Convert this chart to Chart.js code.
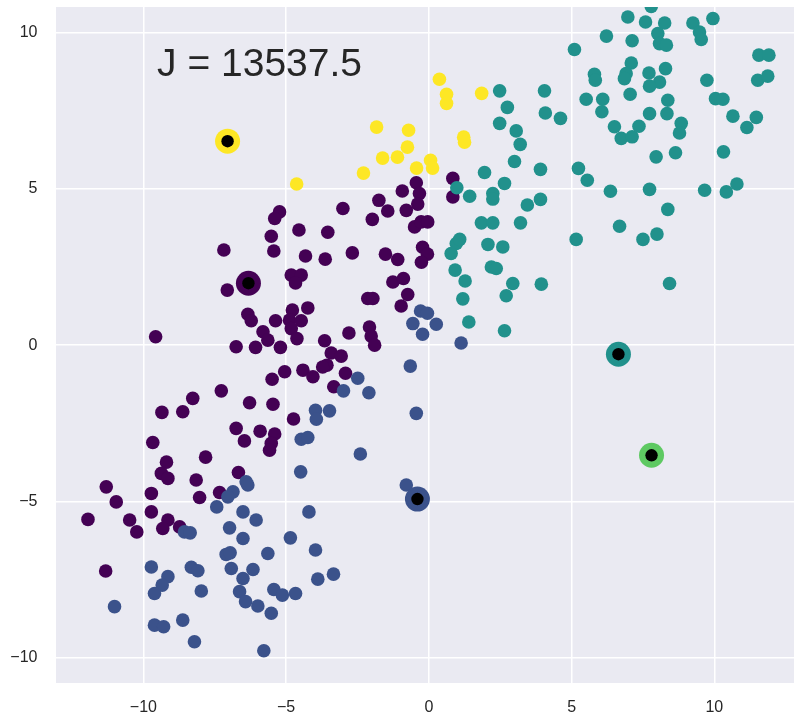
<!DOCTYPE html>
<html><head><meta charset="utf-8">
<style>html,body{margin:0;padding:0;background:#fff;} canvas{display:block;}</style>
<script src="https://cdn.jsdelivr.net/npm/chart.js@4.4.1/dist/chart.umd.min.js"></script>
</head><body>
<canvas id="c" width="794" height="721"></canvas>
<script>
// ---- tick labels & axis ranges ----
const xTicks = [-10, -5, 0, 5, 10];
const yTicks = [-10, -5, 0, 5, 10];
const xRange = [-13.06, 12.79];
const yRange = [-10.80, 10.81];
const annotationText = 'J = 13537.5';
const annotationPos = [-9.52, 8.6];

// ---- cluster members ----
const purplePts = [
[-5.23,4.26],[-5.40,4.05],[-4.55,3.68],[-3.54,3.61],[-3.01,4.37],[-1.75,4.63],[-0.93,4.93],[-0.44,5.19],
[-0.33,4.85],[-1.44,4.29],[-1.98,4.02],[-0.79,4.31],[-0.39,4.51],[-0.50,3.78],[-0.27,3.94],[0.84,5.33],
[0.84,4.74],[-0.04,3.94],[-7.18,3.04],[-7.06,1.76],[-9.57,0.27],[-6.75,-0.05],[-7.27,-1.46],[-8.27,-1.70],
[-8.62,-2.13],[-9.35,-2.15],[-9.67,-3.11],[-6.75,-2.66],[-7.82,-3.58],[-9.19,-3.74],[-5.52,3.48],[-5.43,3.01],
[-4.32,2.85],[-3.63,2.75],[-2.68,2.95],[-1.52,2.91],[-1.09,2.74],[-0.22,3.13],[-0.05,2.91],[-0.26,2.65],
[-4.82,2.24],[-4.47,2.24],[-4.67,1.99],[-1.26,2.02],[-0.89,2.13],[-2.14,1.49],[-1.96,1.49],[-0.74,1.62],
[-0.97,1.25],[-6.34,0.99],[-6.22,0.78],[-5.37,0.78],[-4.78,1.12],[-4.24,1.19],[-4.88,0.80],[-4.47,0.78],
[-4.82,0.53],[-4.62,0.21],[-5.81,0.43],[-5.64,0.16],[-2.80,0.39],[-3.65,0.14],[-2.08,0.58],[-2.02,0.29],
[-1.90,0.00],[-6.07,-0.07],[-5.20,-0.07],[-3.42,-0.25],[-3.07,-0.35],[-3.57,-0.64],[-3.72,-0.70],[-5.05,-0.85],
[-5.49,-1.09],[-4.41,-0.80],[-4.06,-1.01],[-2.92,-0.90],[-3.33,-1.33],[-6.28,-1.84],[-5.46,-1.89],[-4.74,-2.36],
[-5.91,-2.75],[-5.40,-2.84],[-5.52,-3.14],[-5.58,-3.36],[-6.46,-3.06],[-9.37,-4.10],[-9.14,-4.26],[-11.30,-4.53],
[-10.95,-5.01],[-9.72,-4.74],[-8.15,-4.31],[-8.03,-4.87],[-7.33,-4.71],[-6.67,-4.07],[-11.94,-5.57],[-10.48,-5.59],
[-10.23,-5.97],[-9.72,-5.33],[-9.14,-5.59],[-9.32,-5.86],[-8.73,-5.81],[-11.32,-7.22]
];
const bluePts = [
[-0.56,0.69],[-0.29,1.09],[-0.05,1.02],[-0.22,0.35],[0.26,0.67],[1.13,0.07],[-2.49,-1.06],[-2.99,-1.46],
[-2.10,-1.52],[-0.65,-0.67],[-0.44,-2.18],[-3.97,-2.08],[-3.48,-2.10],[-3.94,-2.37],[-4.47,-3.01],[-4.24,-2.95],
[-2.40,-3.48],[-4.49,-4.05],[-6.40,-4.37],[-6.34,-4.47],[-0.79,-4.47],[-6.51,-5.33],[-6.05,-5.59],[-4.20,-5.33],
[-6.51,-6.18],[-4.85,-6.16],[-5.64,-6.66],[-3.97,-6.55],[-6.16,-7.17],[-6.51,-7.46],[-3.89,-7.48],[-3.34,-7.32],
[-5.43,-7.81],[-5.13,-7.99],[-4.67,-7.94],[-6.63,-7.88],[-6.42,-8.20],[-5.99,-8.34],[-5.52,-8.57],[-5.78,-9.77],
[-6.86,-4.69],[-7.04,-4.85],[-7.43,-5.17],[-6.98,-5.84],[-8.56,-5.97],[-8.36,-6.00],[-7.10,-6.69],[-6.96,-6.64],
[-9.72,-7.09],[-8.32,-7.10],[-8.09,-7.21],[-6.92,-7.14],[-9.14,-7.40],[-9.34,-7.67],[-9.61,-7.94],[-7.97,-7.86],
[-11.01,-8.36],[-9.61,-8.95],[-9.29,-9.00],[-8.62,-8.79],[-8.21,-9.48]
];
const tealPts = [
[5.10,9.45],[6.22,9.88],[2.48,8.13],[4.05,8.13],[2.75,7.60],[4.08,7.42],[4.61,7.25],[2.48,7.09],
[3.06,6.85],[3.20,6.42],[3.00,5.87],[3.91,5.62],[1.95,5.52],[2.65,5.17],[2.24,4.85],[2.24,4.67],
[1.43,4.76],[0.98,5.03],[3.45,4.48],[3.91,4.66],[1.84,3.91],[2.24,3.91],[3.21,3.91],[5.24,5.65],
[5.55,5.27],[5.80,8.66],[5.83,8.47],[5.51,7.86],[6.09,7.86],[6.06,7.46],[6.36,4.92],[7.79,10.83],
[6.97,10.49],[7.59,10.33],[8.26,10.30],[8.02,9.96],[8.08,9.64],[8.32,9.59],[9.25,10.30],[9.95,10.44],
[9.48,10.01],[9.54,9.77],[7.12,9.73],[11.56,9.27],[11.91,9.27],[11.52,8.47],[11.87,8.60],[7.09,9.02],
[6.91,8.68],[6.85,8.52],[7.71,8.70],[8.29,8.84],[8.08,8.41],[7.73,8.28],[9.74,8.47],[7.05,8.02],
[8.37,7.83],[8.34,7.40],[10.04,7.88],[10.30,7.86],[7.73,7.40],[10.65,7.32],[11.47,7.28],[11.14,6.96],
[6.50,6.98],[6.74,6.61],[7.12,6.66],[7.36,7.00],[8.84,7.09],[8.78,6.78],[7.96,6.02],[8.64,6.15],
[10.32,6.18],[7.73,4.98],[9.66,4.95],[10.42,4.90],[10.79,5.15],[8.37,4.34],[6.68,3.80],[7.99,3.55],
[7.50,3.38],[8.43,1.97],[0.96,3.25],[1.08,3.38],[0.78,2.93],[2.07,3.22],[2.59,3.14],[5.16,3.38],
[0.92,2.40],[2.19,2.50],[2.36,2.45],[1.27,2.05],[2.94,1.97],[3.94,1.95],[2.71,1.58],[1.19,1.48],
[1.40,0.74],[2.65,0.46]
];
const yellowPts = [
[-4.63,5.15],[-2.29,5.50],[-1.83,6.97],[-1.62,5.98],[-1.10,6.01],[-0.75,6.33],[-0.71,6.87],[-0.43,5.66],
[0.06,5.91],[0.13,5.66],[0.37,8.50],[0.62,8.02],[0.62,7.73],[1.85,8.05],[1.22,6.65],[1.25,6.49]
];

// ---- centroids ----
const centroidX = [-7.05, -6.32, -0.40, 6.64, 7.80];
const centroidY = [6.52, 1.98, -4.92, -0.29, -3.52];
const centroidColors = ['#fde725', '#440154', '#3b528b', '#21918c', '#5ec962'];

const FONT = '"Liberation Sans", Arial, Helvetica, sans-serif';
const fmt = v => String(v).replace('-', '\u2212');
const toXY = arr => arr.map(([x, y]) => ({x, y}));

const bgPlugin = {
  id: 'bg',
  beforeDraw(chart) {
    const {ctx, chartArea: a} = chart;
    ctx.save();
    ctx.fillStyle = '#eaeaf2';
    ctx.fillRect(a.left, a.top, a.right - a.left, a.bottom - a.top);
    ctx.restore();
  }
};
const textPlugin = {
  id: 'jtext',
  afterDatasetsDraw(chart) {
    const {ctx, scales} = chart;
    ctx.save();
    ctx.fillStyle = '#262626';
    ctx.font = '39px ' + FONT;
    ctx.textBaseline = 'alphabetic';
    ctx.textAlign = 'left';
    ctx.fillText(annotationText, scales.x.getPixelForValue(annotationPos[0]), scales.y.getPixelForValue(annotationPos[1]));
    ctx.restore();
  }
};

const ptStyle = (color, r, order) => ({backgroundColor: color, pointRadius: r, pointHoverRadius: r, borderWidth: 0, pointBorderWidth: 0, clip: 0, order});

new Chart(document.getElementById('c'), {
  type: 'scatter',
  data: {
    datasets: [
      Object.assign({data: toXY(purplePts)}, ptStyle('#440154', 6.8, 6)),
      Object.assign({data: toXY(bluePts)}, ptStyle('#3b528b', 6.8, 5)),
      Object.assign({data: toXY(tealPts)}, ptStyle('#21918c', 6.8, 4)),
      Object.assign({data: toXY(yellowPts)}, ptStyle('#fde725', 6.8, 3)),
      Object.assign({data: centroidX.map((x, i) => ({x, y: centroidY[i]}))}, ptStyle(centroidColors, 12.5, 2)),
      Object.assign({data: centroidX.map((x, i) => ({x, y: centroidY[i]}))}, ptStyle('#000000', 6.2, 1))
    ]
  },
  options: {
    responsive: false,
    animation: false,
    layout: {autoPadding: false, padding: {top: 7, right: 0, left: 0, bottom: 0}},
    plugins: {legend: {display: false}, tooltip: {enabled: false}},
    scales: {
      x: {
        type: 'linear', min: xRange[0], max: xRange[1],
        afterBuildTicks: s => { s.ticks = xTicks.map(v => ({value: v})); },
        afterFit: s => { s.height = 38; s.paddingLeft = 0; s.paddingRight = 0; s.paddingTop = 0; s.paddingBottom = 0; },
        grid: {color: '#ffffff', lineWidth: 1.5, drawTicks: false},
        border: {display: false},
        ticks: {padding: 15, color: '#262626', font: {family: FONT, size: 16}, callback: v => fmt(v)}
      },
      y: {
        type: 'linear', min: yRange[0], max: yRange[1],
        afterBuildTicks: s => { s.ticks = yTicks.map(v => ({value: v})); },
        afterFit: s => { s.width = 56; s.paddingLeft = 0; s.paddingRight = 0; s.paddingTop = 0; s.paddingBottom = 0; },
        grid: {color: '#ffffff', lineWidth: 1.5, drawTicks: false},
        border: {display: false},
        ticks: {padding: 18.5, color: '#262626', font: {family: FONT, size: 16}, callback: v => fmt(v)}
      }
    }
  },
  plugins: [bgPlugin, textPlugin]
});
</script>
</body></html>
